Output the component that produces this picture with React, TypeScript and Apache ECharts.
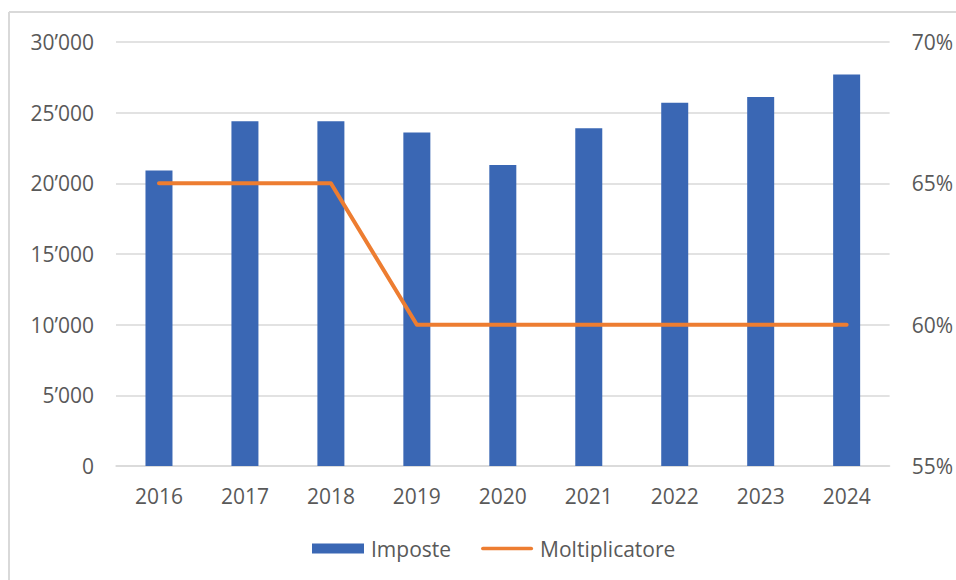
import React, { useEffect, useRef } from "react";
import * as echarts from "echarts";

const years = ["2016", "2017", "2018", "2019", "2020", "2021", "2022", "2023", "2024"];
const imposte = [20900, 24400, 24400, 23600, 21300, 23900, 25700, 26100, 27700];
const moltiplicatore = [65, 65, 65, 60, 60, 60, 60, 60, 60];

const FONT = "'Open Sans', 'Noto Sans', sans-serif";
const TXT = "#595959";
const GRID = "#d9d9d9";

function fmtThousands(v: number): string {
  const s = String(Math.round(v));
  return s.replace(/\B(?=(\d{3})+(?!\d))/g, "\u2019");
}

export default function App() {
  const ref = useRef<HTMLDivElement>(null);
  useEffect(() => {
    document.body.style.margin = "0";
    const chart = echarts.init(ref.current!, null, { renderer: "svg" });
    chart.setOption({
      animation: false,
      backgroundColor: "#ffffff",
      textStyle: { fontFamily: FONT, color: TXT },
      grid: { left: 116, right: 66, top: 42, bottom: 114, containLabel: false },
      legend: {
        bottom: 16,
        left: 307,
        itemWidth: 52,
        itemHeight: 10,
        itemGap: 30,
        textStyle: { fontFamily: FONT, fontSize: 21, color: TXT, padding: [0, 0, 0, 2] },
        data: [
          { name: "Imposte", icon: "rect" },
          { name: "Moltiplicatore", icon: "path://M2,0 L54,0 A2,2 0 0 1 54,4 L2,4 A2,2 0 0 1 2,0 Z" },
        ],
      },
      graphic: [
        { type: "line", shape: { x1: 9, y1: 12, x2: 9, y2: 580 }, style: { stroke: GRID, lineWidth: 2 } },
        { type: "line", shape: { x1: 9, y1: 12, x2: 956, y2: 12 }, style: { stroke: GRID, lineWidth: 2 } },
      ],
      xAxis: {
        type: "category",
        data: years,
        axisLine: { show: true, lineStyle: { color: GRID, width: 1.5 } },
        axisTick: { show: false },
        axisLabel: { fontFamily: FONT, fontSize: 21, color: TXT, margin: 19 },
      },
      yAxis: [
        {
          type: "value",
          min: 0,
          max: 30000,
          interval: 5000,
          axisLine: { show: false },
          axisTick: { show: false },
          splitLine: { lineStyle: { color: GRID, width: 1.5 } },
          axisLabel: {
            fontFamily: FONT,
            fontSize: 21,
            color: TXT,
            margin: 22,
            formatter: (v: number) => fmtThousands(v),
          },
        },
        {
          type: "value",
          min: 55,
          max: 70,
          interval: 5,
          position: "right",
          axisLine: { show: false },
          axisTick: { show: false },
          splitLine: { show: false },
          axisLabel: {
            fontFamily: FONT,
            fontSize: 21,
            color: TXT,
            margin: 22,
            formatter: (v: number) => `${v}%`,
          },
        },
      ],
      series: [
        {
          name: "Imposte",
          type: "bar",
          data: imposte,
          barWidth: 27,
          itemStyle: { color: "#3A67B4" },
          yAxisIndex: 0,
        },
        {
          name: "Moltiplicatore",
          type: "line",
          data: moltiplicatore,
          yAxisIndex: 1,
          symbol: "none",
          showSymbol: false,
          lineStyle: { color: "#ED7D31", width: 4, cap: "round", join: "round" },
          itemStyle: { color: "#ED7D31" },
        },
      ],
    });
    return () => chart.dispose();
  }, []);
  return <div ref={ref} style={{ width: 956, height: 580 }} />;
}
